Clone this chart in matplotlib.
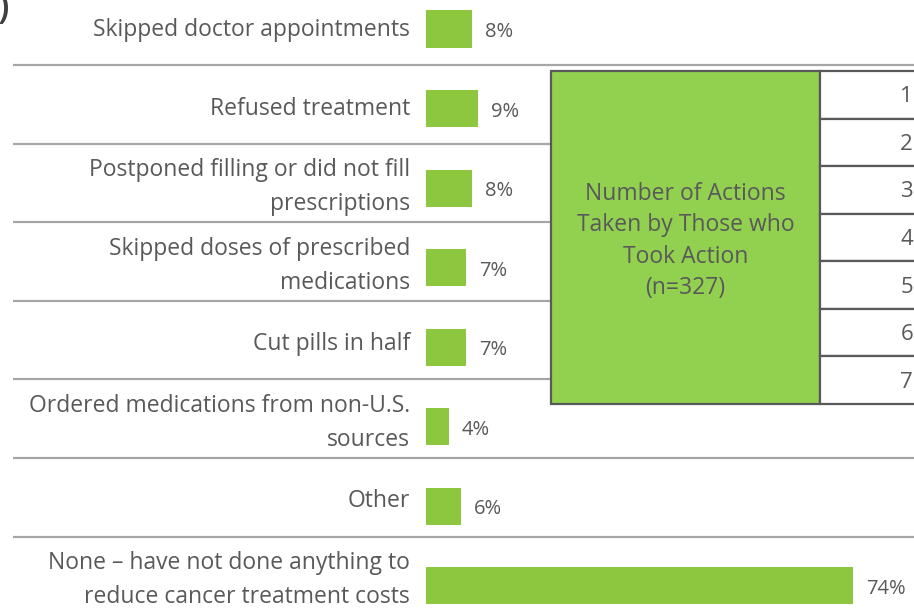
import matplotlib.pyplot as plt
from matplotlib.patches import Rectangle

plt.rcParams['font.family'] = ['Open Sans', 'DejaVu Sans']

categories = [
    "Skipped doctor appointments",
    "Refused treatment",
    "Postponed filling or did not fill\nprescriptions",
    "Skipped doses of prescribed\nmedications",
    "Cut pills in half",
    "Ordered medications from non-U.S.\nsources",
    "Other",
    "None \u2013 have not done anything to\nreduce cancer treatment costs",
]
values = [8, 9, 8, 7, 7, 4, 6, 74]
box_title = "Number of Actions\nTaken by Those who\nTook Action\n(n=327)"
action_counts = ["1", "2", "3", "4", "5", "6", "7"]

TEXT = '#595959'
BAR = '#8DC63F'
BOX = '#92D050'
RULE = '#A6A6A6'

W, H = 914, 609
fig = plt.figure(figsize=(W / 100, H / 100), dpi=100)

# overlay in pixel coordinates for rules and the side table
ov = fig.add_axes([0, 0, 1, 1])
ov.set_xlim(0, W)
ov.set_ylim(H, 0)
ov.axis('off')

rules = [64.5, 143.5, 222, 300.5, 379, 458, 536.5]
for k, y in enumerate(rules):
    x1 = 551 if 1 <= k <= 4 else W
    ov.plot([13, x1], [y, y], color=RULE, lw=1.6, solid_capstyle='butt')

top, bottom = 71, 404
ov.add_patch(Rectangle((551, top), 820 - 551, bottom - top, facecolor=BOX,
                       edgecolor=TEXT, lw=1.6, zorder=3))
ov.text(685.5, 241, box_title, ha='center', va='center', fontsize=16.5,
        color=TEXT, linespacing=1.42, zorder=4)
step = (bottom - top) / len(action_counts)
for k, lab in enumerate(action_counts):
    y0 = top + k * step
    ov.add_patch(Rectangle((820, y0), 110, step, facecolor='white',
                           edgecolor=TEXT, lw=1.6, zorder=3, clip_on=True))
    ov.text(913, y0 + step / 2 + 2, lab, ha='right', va='center', fontsize=16,
            color=TEXT, zorder=4)

ov.text(-2, 18, ")", ha='left', va='baseline', fontsize=26, color='#404040',
        fontweight='semibold')

# bars
scale = 5.77
ax = fig.add_axes([426 / W, 0, (W - 426) / W, 1])
ax.patch.set_alpha(0)
ax.set_xlim(0, (W - 426) / scale)
ax.set_ylim((H - 29) / 79.57, -29 / 79.57)
ax.axis('off')

ypos = list(range(len(values)))
ax.barh(ypos, values, height=0.465, color=BAR)
for y, v, lab in zip(ypos, values, categories):
    ax.annotate(f"{v}%", xy=(v, y), xytext=(13, -3), textcoords='offset pixels',
                ha='left', va='center', fontsize=14.5, color=TEXT)
    ax.annotate(lab, xy=(0, y), xycoords=('data', 'data'), xytext=(-16, y - 1),
                textcoords='offset pixels', ha='right', va='center',
                fontsize=16.5, color=TEXT, linespacing=1.55,
                annotation_clip=False)

fig.savefig('out.png', dpi=100)
